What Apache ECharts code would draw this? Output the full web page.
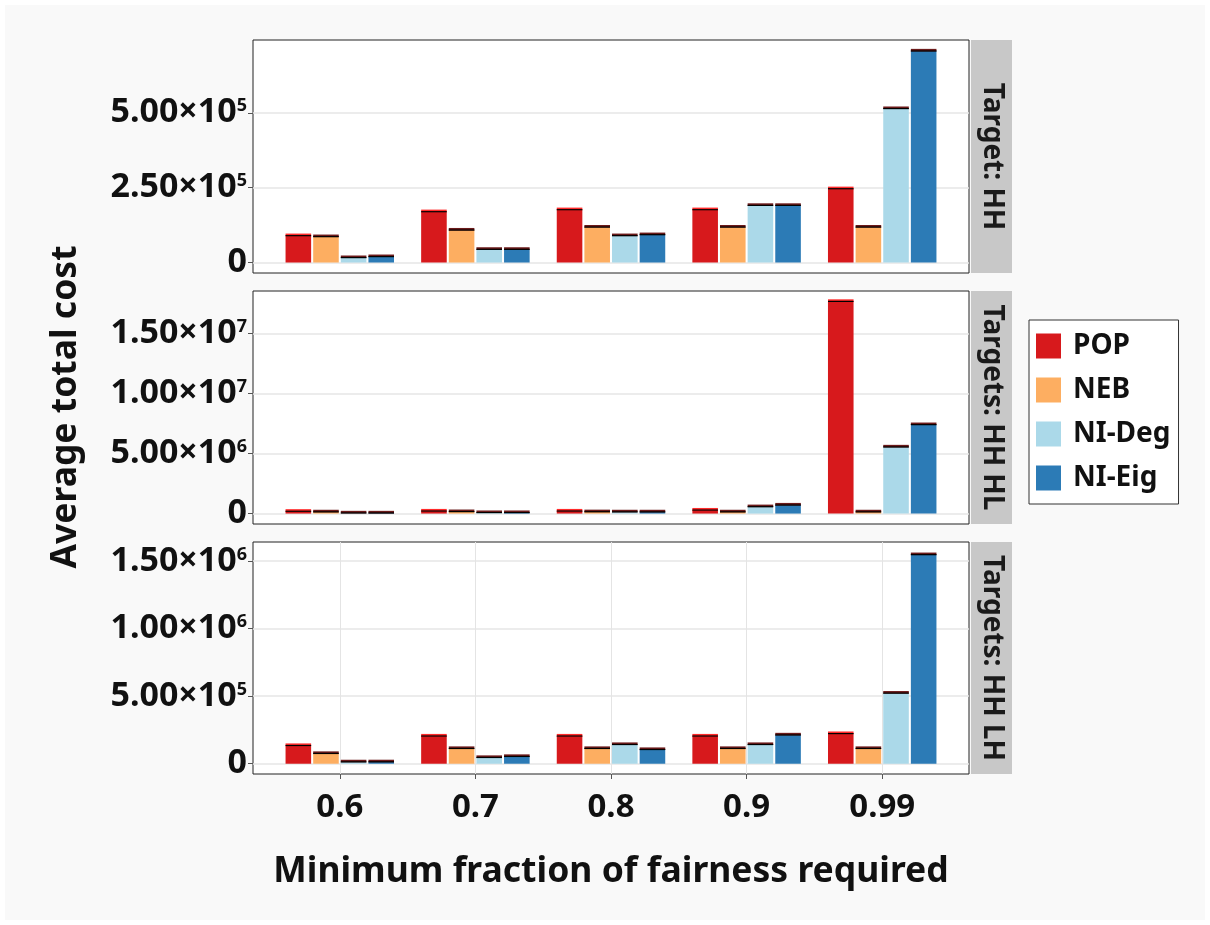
<!DOCTYPE html>
<html>
<head>
<meta charset="utf-8">
<script src="https://cdn.jsdelivr.net/npm/echarts@6/dist/echarts.min.js"></script>
<style>html,body{margin:0;padding:0;background:#fff;}#c{width:1210px;height:925px;}</style>
</head>
<body>
<div id="c"></div>
<script>
// ---- data ----
const categories = ['0.6', '0.7', '0.8', '0.9', '0.99'];
const methods = ['POP', 'NEB', 'NI-Deg', 'NI-Eig'];
const panelTitles = ['Target: HH', 'Targets: HH HL', 'Targets: HH LH'];

// Target: HH
const hhPOP   = [90000, 170000, 176700, 176700, 246700];
const hhNEB   = [86700, 108700, 118700, 118700, 118700];
const hhNIDeg = [16700, 44300, 90000, 191000, 514300];
const hhNIEig = [20000, 44300, 93300, 191000, 706700];
// Targets: HH HL
const hlPOP   = [200000, 220000, 220000, 300000, 17690000];
const hlNEB   = [150000, 170000, 160000, 150000, 150000];
const hlNIDeg = [60000, 90000, 150000, 580000, 5560000];
const hlNIEig = [60000, 90000, 150000, 720000, 7420000];
// Targets: HH LH
const lhPOP   = [135700, 206000, 206000, 206000, 224000];
const lhNEB   = [76700, 113600, 113600, 113600, 113600];
const lhNIDeg = [14700, 47000, 143000, 143000, 523600];
const lhNIEig = [15000, 54600, 106000, 214000, 1549000];

// y tick labels per panel
const yTicksHH = [0, 250000, 500000];
const yTicksHL = [0, 5000000, 10000000, 15000000];
const yTicksLH = [0, 500000, 1000000, 1500000];

// ---- styling / layout ----
const panelData = [
  [hhPOP, hhNEB, hhNIDeg, hhNIEig],
  [hlPOP, hlNEB, hlNIDeg, hlNIEig],
  [lhPOP, lhNEB, lhNIDeg, lhNIEig]
];
const panelTicks = [yTicksHH, yTicksHL, yTicksLH];
const panelRange = [[-35000, 743000], [-870000, 18550000], [-76000, 1642000]];
const colors = ['#d7191c', '#fdae61', '#abd9e9', '#2c7bb6'];
const errColors = ['#ff2a2a', '#6b1a1a', '#6b1a1a', '#6b1a1a'];
const FONT = '"Noto Sans", "Open Sans", sans-serif';
const gridLeft = 253, gridWidth = 716;
const gridTops = [40, 291, 542];
const gridHeights = [233, 233, 232];
const catGapPct = 0.2, barGapPct = 0.08;

function fmtY(v) {
  if (v === 0) return '{m|0}';
  const e = Math.floor(Math.log10(v) + 1e-9);
  const mant = (v / Math.pow(10, e)).toFixed(2);
  return '{m|' + mant + '×10}{s|' + e + '}';
}

const grids = [], xAxes = [], yAxes = [], series = [], graphics = [];

graphics.push({ type: 'rect', z: -100, shape: { x: 5, y: 5, width: 1200, height: 915 }, style: { fill: '#f9f9f9' } });

for (let p = 0; p < 3; p++) {
  const isBottom = p === 2;
  grids.push({ left: gridLeft, top: gridTops[p], width: gridWidth, height: gridHeights[p],
    show: true, backgroundColor: '#ffffff', borderColor: '#222', borderWidth: 1 });
  xAxes.push({
    type: 'value', gridIndex: p, min: -0.64, max: 4.64, position: 'bottom',
    axisLine: { show: false, onZero: false },
    axisTick: { show: isBottom, customValues: [0, 1, 2, 3, 4], length: 5, lineStyle: { color: '#555' } },
    axisLabel: { show: isBottom, customValues: [0, 1, 2, 3, 4], formatter: v => categories[Math.round(v)],
      fontSize: 33, fontWeight: 'bold', fontFamily: FONT, color: '#111', margin: 17 },
    splitLine: { show: isBottom, lineStyle: { color: '#e4e4e4', width: 1 } }
  });
  yAxes.push({
    type: 'value', gridIndex: p, min: panelRange[p][0], max: panelRange[p][1], position: 'left',
    axisLine: { show: false, onZero: false },
    axisTick: { show: true, customValues: panelTicks[p], length: 5, lineStyle: { color: '#555' } },
    axisLabel: { customValues: panelTicks[p], formatter: fmtY, margin: 6,
      rich: {
        m: { fontSize: 34, fontWeight: 'bold', fontFamily: FONT, color: '#111', verticalAlign: 'middle' },
        s: { fontSize: 18, fontWeight: 'bold', fontFamily: FONT, color: '#111', verticalAlign: 'middle', padding: [0, 0, 13, 0] }
      } },
    splitLine: { show: true, lineStyle: { color: '#e6e6e6', width: 1.5 } }
  });
  for (let m = 0; m < 4; m++) {
    series.push({
      type: 'bar', name: methods[m], xAxisIndex: p, yAxisIndex: p,
      barCategoryGap: (catGapPct * 100) + '%', barGap: (barGapPct * 100) + '%',
      itemStyle: { color: colors[m] },
      data: panelData[p][m].map((v, i) => [i, v])
    });
  }
  // error-bar style caps
  const errData = [];
  for (let m = 0; m < 4; m++) panelData[p][m].forEach((v, i) => errData.push([i, m, v]));
  series.push({
    type: 'custom', name: 'err' + p, xAxisIndex: p, yAxisIndex: p, z: 5,
    encode: { x: 0, y: 2 },
    data: errData,
    renderItem: function (params, api) {
      const i = api.value(0), m = api.value(1), v = api.value(2);
      const band = api.size([1, 0])[0];
      const barW = band * (1 - catGapPct) / (4 + 3 * barGapPct);
      const c = api.coord([i, v]);
      const x0 = c[0] - band * (1 - catGapPct) / 2 + m * barW * (1 + barGapPct);
      return { type: 'group', children: [
        { type: 'rect', shape: { x: x0, y: c[1] - 2, width: barW, height: 2.5 }, style: { fill: errColors[m] } },
        { type: 'rect', shape: { x: x0, y: c[1] - 0.5, width: barW, height: 1.2 }, style: { fill: '#000' } }
      ] };
    }
  });
  // facet strips
  graphics.push({ type: 'rect', shape: { x: 971, y: gridTops[p], width: 41, height: gridHeights[p] }, style: { fill: '#c8c8c8' } });
  graphics.push({ type: 'text', x: 991.5, y: gridTops[p] + gridHeights[p] / 2, rotation: -Math.PI / 2,
    style: { text: panelTitles[p], align: 'center', verticalAlign: 'middle', fontSize: 28, fontWeight: 'bold', fontFamily: FONT, fill: '#1a1a1a' } });
}

graphics.push({ type: 'text', x: 66, y: 407, rotation: Math.PI / 2,
  style: { text: 'Average total cost', align: 'center', verticalAlign: 'middle', fontSize: 35.5, fontWeight: 'bold', fontFamily: FONT, fill: '#111' } });
graphics.push({ type: 'text', x: 611, y: 872,
  style: { text: 'Minimum fraction of fairness required', align: 'center', verticalAlign: 'middle', fontSize: 35.5, fontWeight: 'bold', fontFamily: FONT, fill: '#111' } });

const chart = echarts.init(document.getElementById('c'), null, { renderer: 'canvas' });
chart.setOption({
  animation: false,
  backgroundColor: '#ffffff',
  grid: grids, xAxis: xAxes, yAxis: yAxes, series: series,
  legend: {
    data: methods, orient: 'vertical', left: 1029, top: 320,
    itemWidth: 25, itemHeight: 25, itemGap: 16, icon: 'rect',
    backgroundColor: '#ffffff', borderColor: '#333', borderWidth: 1,
    padding: [12, 8, 12, 7],
    textStyle: { fontSize: 28, lineHeight: 25, fontWeight: 'bold', fontFamily: FONT, color: '#111', padding: [0, 0, 0, 7] }
  },
  graphic: graphics
});
</script>
</body>
</html>
